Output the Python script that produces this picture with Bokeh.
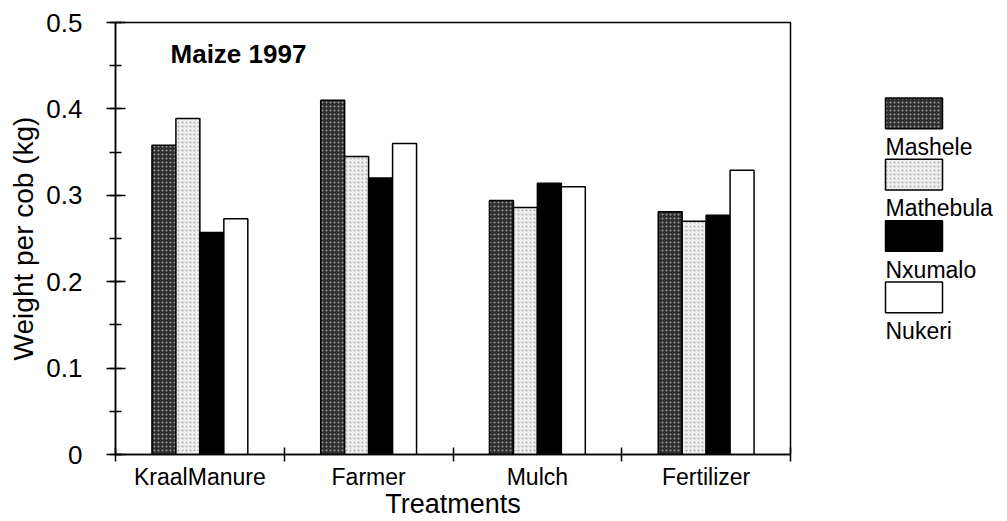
from bokeh.plotting import figure
from bokeh.models import (Range1d, FixedTicker, SingleIntervalTicker, Label, ColumnDataSource)
from bokeh.layouts import row
from bokeh.core.properties import value
from bokeh.embed import file_html
from bokeh.resources import INLINE

# ---- data ----
treatments = ["KraalManure", "Farmer", "Mulch", "Fertilizer"]
series = ["Mashele", "Mathebula", "Nxumalo", "Nukeri"]
mashele = [0.358, 0.410, 0.294, 0.281]
mathebula = [0.389, 0.345, 0.286, 0.270]
nxumalo = [0.257, 0.320, 0.314, 0.277]
nukeri = [0.273, 0.360, 0.310, 0.329]
title_text = "Maize 1997"

values = [mashele, mathebula, nxumalo, nukeri]
fills = ["#2f2f2f", "#eeeeee", "#000000", "#ffffff"]
hatches = [".", ".", " ", " "]
hatch_cols = ["#9a9a9a", "#b0b0b0", "#000000", "#000000"]

FONT = "Liberation Sans"
bar_w = 0.142
H = 521

p = figure(width=800, height=H, output_backend="svg", toolbar_location=None,
           x_range=Range1d(0, len(treatments)), y_range=Range1d(0, 0.5),
           min_border_left=115, min_border_right=10, min_border_top=22, min_border_bottom=67)
p.grid.visible = False
p.outline_line_color = "black"
p.outline_line_width = 1.5
p.background_fill_color = "white"
p.border_fill_color = "white"

for j, (name, vals) in enumerate(zip(series, values)):
    xs = [i + 0.5 + (j - 1.5) * bar_w for i in range(len(treatments))]
    src = ColumnDataSource(dict(x=xs, top=vals))
    p.vbar(x="x", top="top", bottom=0, width=bar_w, source=src,
           fill_color=fills[j], line_color="black", line_width=1.5,
           hatch_pattern=hatches[j], hatch_color=hatch_cols[j], hatch_scale=4, hatch_weight=1)

# x axis
xa = p.xaxis[0]
xa.ticker = FixedTicker(ticks=[i + 0.5 for i in range(len(treatments))],
                        minor_ticks=list(range(len(treatments) + 1)))
xa.major_label_overrides = {i + 0.5: t for i, t in enumerate(treatments)}
xa.major_tick_in = 0
xa.major_tick_out = 0
xa.minor_tick_in = 7
xa.minor_tick_out = 7
xa.minor_tick_line_color = "black"
xa.minor_tick_line_width = 1.5
xa.axis_line_width = 1.5
xa.axis_line_color = "black"
xa.major_label_text_font = FONT
xa.major_label_text_font_size = "23px"
xa.major_label_text_color = "black"
xa.major_label_standoff = 2
xa.axis_label = "Treatments"
xa.axis_label_text_font = FONT
xa.axis_label_text_font_size = "27px"
xa.axis_label_text_font_style = "normal"
xa.axis_label_text_color = "black"
xa.axis_label_standoff = -4

# y axis
ya = p.yaxis[0]
ya.ticker = SingleIntervalTicker(interval=0.1, num_minor_ticks=2)
ya.major_label_overrides = {0: "0"}
ya.major_tick_in = 10
ya.major_tick_out = 9
ya.minor_tick_in = 6
ya.minor_tick_out = 6
ya.major_tick_line_width = 1.5
ya.minor_tick_line_width = 1.5
ya.minor_tick_line_color = "black"
ya.major_tick_line_color = "black"
ya.axis_line_width = 1.5
ya.axis_line_color = "black"
ya.major_label_text_font = FONT
ya.major_label_text_font_size = "26px"
ya.major_label_text_color = "black"
ya.major_label_standoff = 24
ya.axis_label = "Weight per cob (kg)"
ya.axis_label_text_font = FONT
ya.axis_label_text_font_size = "28px"
ya.axis_label_text_font_style = "normal"
ya.axis_label_text_color = "black"
ya.axis_label_standoff = 4

p.add_layout(Label(x=0.326, y=0.463, text=title_text, text_font=FONT, text_font_size="26px",
                   text_font_style="bold", text_baseline="middle", text_color="black"))

# ---- legend panel ----
p2 = figure(width=205, height=H, output_backend="svg", toolbar_location=None,
            x_range=Range1d(0, 205), y_range=Range1d(H, 0),
            x_axis_location=None, y_axis_location=None,
            min_border=0)
p2.grid.visible = False
p2.outline_line_color = None
step = 74
tops = [91 + i * step for i in range(len(series))]
src2 = ColumnDataSource(dict(left=[85] * 4, right=[142] * 4, top=tops,
                             bottom=[t + 37 for t in tops], fill=fills,
                             hatch=hatches, hcol=hatch_cols,
                             ty=[t + 59 for t in tops], tx=[85] * 4, name=series))
p2.quad(left="left", right="right", top="top", bottom="bottom", source=src2,
        fill_color="fill", line_color="black", line_width=1.5,
        hatch_pattern="hatch", hatch_color="hcol", hatch_scale=4, hatch_weight=1)
p2.text(x="tx", y="ty", text="name", source=src2, text_font=value(FONT),
        text_font_size="23px", text_baseline="middle", text_color="black")

layout = row(p, p2)
open("out.html", "w").write(file_html(layout, INLINE))
